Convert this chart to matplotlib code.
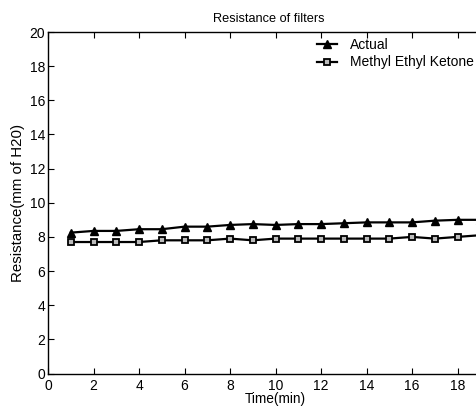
import matplotlib
matplotlib.use("Agg")
import matplotlib.pyplot as plt

plt.rcParams['font.family'] = ['Liberation Sans', 'DejaVu Sans']

time_min = list(range(1, 20))
actual = [8.25, 8.35, 8.35, 8.45, 8.45, 8.6, 8.6, 8.7, 8.75, 8.7,
          8.75, 8.75, 8.8, 8.85, 8.85, 8.85, 8.95, 9.0, 9.0]
mek = [7.7, 7.7, 7.7, 7.7, 7.8, 7.8, 7.8, 7.9, 7.8, 7.9,
       7.9, 7.9, 7.9, 7.9, 7.9, 8.0, 7.9, 8.0, 8.1]
x_ticks = list(range(0, 19, 2))
y_ticks = list(range(0, 21, 2))

W, H = 476, 407
fig = plt.figure(figsize=(W / 100, H / 100), dpi=100)
# axis spans 0..20 in x; the right part runs past the canvas edge
ax = fig.add_axes([48 / W, (H - 373.5) / H, 455 / W, 341.5 / H])

ax.plot(time_min, actual, color='black', lw=1.6, marker='^', ms=6,
        mfc='black', mec='black', label='Actual')
ax.plot(time_min, mek, color='black', lw=1.6, marker='s', ms=4.5,
        mfc='#bbbbbb', mec='black', mew=1.3, label='Methyl Ethyl Ketone')

ax.set_xlim(0, 20)
ax.set_ylim(0, 20)
ax.set_xticks(x_ticks)
ax.set_yticks(y_ticks)
ax.tick_params(direction='in', length=4, width=0.8, top=True, right=True,
               labelsize=10)
ax.tick_params(axis='x', pad=4)
ax.tick_params(axis='y', pad=2)
for s in ax.spines.values():
    s.set_linewidth(1.0)

ax.set_title('Resistance of filters', fontsize=9.2, pad=7, x=0.486)
ax.set_xlabel('Time(min)', fontsize=9.8, labelpad=-1)
ax.set_ylabel('Resistance(mm of H20)', fontsize=10.8, labelpad=3)

ax.legend(loc='upper left', bbox_to_anchor=(317 / W, (H - 38) / H),
          bbox_transform=fig.transFigure, frameon=False, fontsize=10,
          handlelength=1.45, handletextpad=0.9, labelspacing=0.25,
          borderaxespad=0, borderpad=0)

fig.savefig('out.png', dpi=100)
